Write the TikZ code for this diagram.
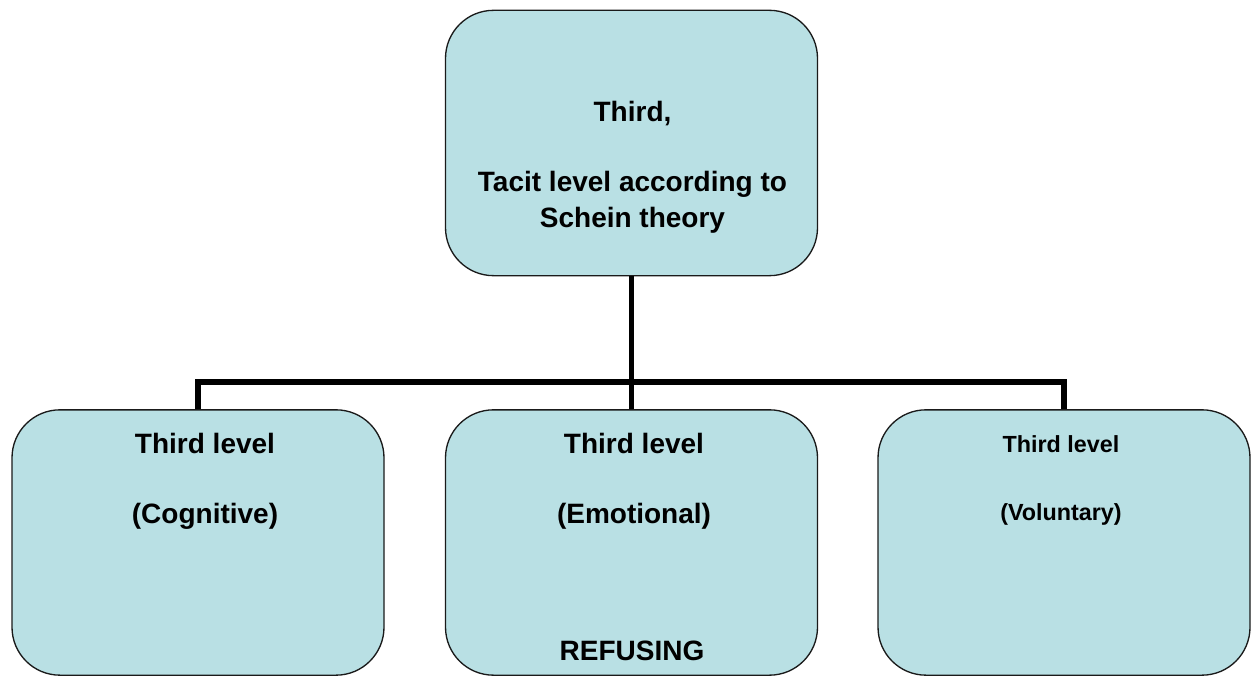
\documentclass[tikz,border=0pt]{standalone}
\usepackage{fontspec}
\setmainfont{Liberation Sans}
\usetikzlibrary{positioning}
\definecolor{boxfill}{HTML}{B9E0E4}
\definecolor{boxline}{HTML}{1A1A1A}

\begin{document}
\begin{tikzpicture}[
  x=0.75pt,
  y=-0.75pt,
  font=\bfseries\fontsize{21}{27.5}\selectfont,
  levelbox/.style={
    draw=boxline,
    fill=boxfill,
    line width=1pt,
    rounded corners=36pt,
    minimum width=279pt,
    minimum height=199pt,
    inner sep=0pt
  },
  boxtext/.style={
    anchor=base,
    align=center,
    inner sep=0pt
  },
  branch/.style={
    black,
    line width=4.2pt
  }
]

\useasboundingbox (0,0) rectangle (1251,677);

% boxes
\node[levelbox] (tacit)     at (631.5,143)  {};
\node[levelbox] (cognitive) at (198,542.5)  {};
\node[levelbox] (emotional) at (631.5,542.5) {};
\node[levelbox] (voluntary) at (1064,542.5) {};

% tree connectors
\coordinate (fork) at (tacit.south |- 0,382);
\draw[branch] (tacit.south) -- (fork);
\draw[branch] (cognitive.north) |- (fork) -| (voluntary.north);
\draw[branch] (fork) -- (emotional.north);

% texts (anchored at the last line)
\node[boxtext] (tacittext) at (632.5,228)
  {Third,\\[25pt]Tacit level according to\\Schein theory};
\node[boxtext] (cogtext) at (205,523)
  {Third level\\[25pt](Cognitive)};
\node[boxtext] (emotext) at (634,523)
  {Third level\\[25pt](Emotional)};
\node[boxtext] (refusing) at (632,660) {REFUSING};
\node[boxtext,font=\bfseries\fontsize{17.5}{22}\selectfont] (voltext)
  at (1061,520) {Third level\\[29pt](Voluntary)};

\end{tikzpicture}
\end{document}
